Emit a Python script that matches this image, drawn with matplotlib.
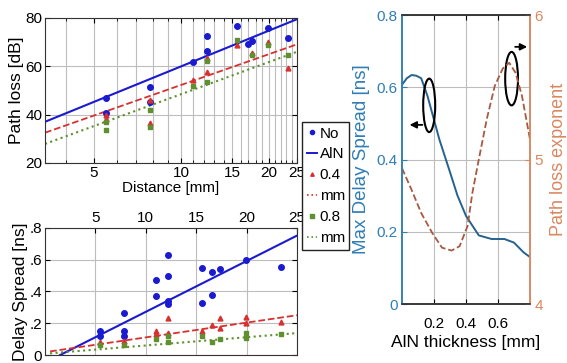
import numpy as np
import matplotlib
matplotlib.use("Agg")
import matplotlib.pyplot as plt
from matplotlib.patches import Ellipse
from matplotlib.lines import Line2D
from matplotlib.ticker import FixedLocator, FixedFormatter, NullFormatter

plt.rcParams['font.family'] = ['Liberation Sans', 'DejaVu Sans']

# === DATA ===
# path loss [dB] vs distance [mm]
pl_no_d = [5.5, 5.5, 7.8, 7.8, 11.0, 12.3, 12.3, 15.6, 16.9, 17.5, 19.8, 23.2]
pl_no = [46.9, 40.7, 51.4, 45.3, 61.8, 72.6, 66.3, 76.7, 69.2, 70.6, 75.9, 71.7]
pl_04_d = [5.5, 5.5, 7.8, 7.8, 11.0, 12.3, 12.3, 15.6, 17.5, 19.8, 23.2]
pl_04 = [40.0, 38.0, 36.5, 46.0, 54.5, 57.7, 63.5, 69.0, 65.5, 70.0, 59.3]
pl_08_d = [5.5, 5.5, 7.8, 7.8, 11.0, 12.3, 12.3, 15.6, 17.5, 19.8, 23.2]
pl_08 = [37.0, 33.6, 35.0, 42.0, 52.0, 53.7, 62.0, 71.0, 64.7, 69.0, 64.7]
# fits: intercept, slope per decade
pl_fit_no = [11.0, 49.0]
pl_fit_04 = [10.1, 42.2]
pl_fit_08 = [4.5, 44.0]

# delay spread [ns] vs distance [mm]
ds_no_d = [5.5, 5.5, 7.8, 7.8, 7.8, 11.0, 11.0, 12.2, 12.2, 12.2, 12.2,
           15.6, 15.6, 16.6, 16.6, 17.4, 19.9, 23.4]
ds_no = [0.15, 0.12, 0.265, 0.15, 0.12, 0.47, 0.37, 0.63, 0.50, 0.34, 0.32,
         0.55, 0.325, 0.52, 0.375, 0.54, 0.60, 0.555]
ds_04_d = [5.5, 7.8, 11.0, 11.0, 12.2, 12.2, 15.6, 16.6, 17.4, 17.4, 19.9, 19.9, 23.4]
ds_04 = [0.08, 0.09, 0.15, 0.13, 0.23, 0.14, 0.15, 0.19, 0.23, 0.17, 0.24, 0.20, 0.21]
ds_08_d = [5.5, 7.8, 11.0, 12.2, 12.2, 15.6, 16.6, 17.4, 19.9, 19.9, 23.4]
ds_08 = [0.06, 0.06, 0.10, 0.12, 0.08, 0.12, 0.08, 0.10, 0.14, 0.11, 0.13]
# fits: intercept, slope per mm
ds_fit_no = [-0.048, 0.032]
ds_fit_04 = [0.018, 0.0093]
ds_fit_08 = [0.008, 0.0052]

# max delay spread / path loss exponent vs AlN thickness
thk_ds = [0.0, 0.03, 0.06, 0.09, 0.12, 0.16, 0.20, 0.234, 0.295, 0.347, 0.40,
          0.48, 0.56, 0.64, 0.70, 0.76, 0.80]
max_ds = [0.607, 0.625, 0.634, 0.632, 0.625, 0.575, 0.51, 0.455, 0.372, 0.30,
          0.244, 0.19, 0.18, 0.18, 0.17, 0.143, 0.13]
thk_ple = [0.0, 0.06, 0.12, 0.19, 0.25, 0.31, 0.36, 0.41, 0.44, 0.48, 0.53,
           0.58, 0.63, 0.67, 0.71, 0.75, 0.80]
ple = [4.94, 4.79, 4.63, 4.49, 4.39, 4.37, 4.40, 4.54, 4.77, 5.0, 5.28,
       5.51, 5.63, 5.67, 5.60, 5.44, 5.14]

C_NO = '#1a1ad0'
C_04 = '#d83030'
C_08 = '#5f8f2f'
C_BLUE = '#2f7db5'
C_ORANGE = '#d9875f'
GRID = '#bdbdbd'

fig = plt.figure(figsize=(5.67, 3.63), dpi=100)

# === PATH LOSS ===
ax1 = fig.add_axes([0.0794, 0.551, 0.4444, 0.3995])
ax1.set_xscale('log')
dd = np.linspace(3.4, 25, 100)
ax1.plot(dd, pl_fit_no[0] + pl_fit_no[1] * np.log10(dd), '-', color=C_NO, lw=1.5)
ax1.plot(dd, pl_fit_04[0] + pl_fit_04[1] * np.log10(dd), '--', color=C_04, lw=1.3)
ax1.plot(dd, pl_fit_08[0] + pl_fit_08[1] * np.log10(dd), ':', color=C_08, lw=1.5)
ax1.plot(pl_no_d, pl_no, 'o', color=C_NO, ms=4)
ax1.plot(pl_04_d, pl_04, '^', color=C_04, ms=3.5)
ax1.plot(pl_08_d, pl_08, 's', color=C_08, ms=3.5)
ax1.set_xlim(3.4, 25)
ax1.set_ylim(20, 80)
ax1.set_yticks([20, 40, 60, 80])
ax1.xaxis.set_major_locator(FixedLocator([5, 10, 15, 20, 25]))
ax1.xaxis.set_major_formatter(FixedFormatter(['5', '10', '15', '20', '25']))
ax1.xaxis.set_minor_locator(FixedLocator([v for v in range(4, 25) if v % 5]))
ax1.xaxis.set_minor_formatter(NullFormatter())
ax1.grid(True, which='both', color=GRID, lw=0.8)
ax1.set_xlabel('Distance [mm]', fontsize=11, labelpad=1)
ax1.set_ylabel('Path loss [dB]', fontsize=12.5, labelpad=1)

# === DELAY SPREAD ===
ax2 = fig.add_axes([0.0794, 0.022, 0.4444, 0.350])
dl = np.linspace(1.5, 25, 50)
ax2.plot(dl, ds_fit_no[0] + ds_fit_no[1] * dl, '-', color=C_NO, lw=1.5)
dl2 = np.linspace(0.5, 25, 50)
ax2.plot(dl2, ds_fit_04[0] + ds_fit_04[1] * dl2, '--', color=C_04, lw=1.3)
ax2.plot(dl2, ds_fit_08[0] + ds_fit_08[1] * dl2, ':', color=C_08, lw=1.5)
ax2.plot(ds_no_d, ds_no, 'o', color=C_NO, ms=4)
ax2.plot(ds_04_d, ds_04, '^', color=C_04, ms=3.5)
ax2.plot(ds_08_d, ds_08, 's', color=C_08, ms=3.5)
ax2.set_xlim(0, 25)
ax2.set_ylim(0, 0.8)
ax2.set_xticks([5, 10, 15, 20, 25])
ax2.set_yticks([0, 0.2, 0.4, 0.6, 0.8])
ax2.set_yticklabels(['0', '.2', '.4', '.6', '.8'])
ax2.xaxis.tick_top()
ax2.grid(True, color=GRID, lw=0.8)
ax2.set_ylabel('Delay Spread [ns]', fontsize=12.5, labelpad=1)

for ax in (ax1, ax2):
    ax.tick_params(which='both', direction='in', top=True, right=True,
                   labelsize=11, pad=2)
    for s in ax.spines.values():
        s.set_color('#333333')

# legend between the panels
handles = [
    Line2D([], [], ls='none', marker='o', ms=3, color=C_NO),
    Line2D([], [], ls='-', color=C_NO, lw=1.4),
    Line2D([], [], ls='none', marker='^', ms=2.5, color=C_04),
    Line2D([], [], ls=':', color=C_04, lw=1.2),
    Line2D([], [], ls='none', marker='s', ms=2.5, color=C_08),
    Line2D([], [], ls=':', color=C_08, lw=1.2),
]
labels = ['No', 'AlN', '0.4', 'mm', '0.8', 'mm']
leg = fig.legend(handles, labels, loc='upper left',
                 bbox_to_anchor=(302 / 567, 1 - 122 / 363), borderaxespad=0,
                 fontsize=11, handlelength=0.7, handletextpad=0.15,
                 labelspacing=0.45, borderpad=0.3, fancybox=False,
                 framealpha=1, edgecolor='#222222')
leg.get_frame().set_linewidth(1.0)

# === AlN THICKNESS ===
ax3 = fig.add_axes([0.709, 0.1625, 0.2257, 0.796])
ax3.plot(thk_ds, max_ds, '-', color='#25628f', lw=1.4)
ax3.set_xlim(0, 0.8)
ax3.set_ylim(0, 0.8)
ax3.set_xticks([0.2, 0.4, 0.6])
ax3.set_yticks([0, 0.2, 0.4, 0.6, 0.8])
ax3.set_yticklabels(['0', '0.2', '0.4', '0.6', '0.8'])
ax3.grid(True, color=GRID, lw=0.8)
ax3.tick_params(direction='in', labelsize=11, pad=3, top=True)
ax3.tick_params(axis='x', pad=9)
ax3.tick_params(axis='y', colors=C_BLUE)
ax3.set_xlabel('AlN thickness [mm]', fontsize=12.5, labelpad=3)
ax3.set_ylabel('Max Delay Spread [ns]', fontsize=13.5, color=C_BLUE, labelpad=5)

ax4 = ax3.twinx()
ax4.plot(thk_ple, ple, '--', color='#a85a40', lw=1.3)
ax4.set_ylim(4, 6)
ax4.set_yticks([4, 5, 6])
ax4.tick_params(direction='in', labelsize=11, pad=3, colors=C_ORANGE)
ax4.set_ylabel('Path loss exponent', fontsize=13, color=C_ORANGE, labelpad=5)

for ax in (ax3, ax4):
    ax.spines['top'].set_color('#333333')
    ax.spines['bottom'].set_color('#333333')
    ax.spines['left'].set_color(C_BLUE)
    ax.spines['right'].set_color(C_ORANGE)
    for s in ax.spines.values():
        s.set_linewidth(1.1)

ax4.add_patch(Ellipse((0.17, 5.375), 0.075, 0.37, fill=False, ec='black', lw=1.5))
ax4.add_patch(Ellipse((0.685, 5.56), 0.08, 0.37, fill=False, ec='black', lw=1.5))
ax4.annotate('', xy=(0.03, 5.24), xytext=(0.145, 5.24),
             arrowprops=dict(arrowstyle='-|>', color='black', lw=1.3, mutation_scale=10))
ax4.annotate('', xy=(0.8, 5.78), xytext=(0.69, 5.78),
             arrowprops=dict(arrowstyle='-|>', color='black', lw=1.3, mutation_scale=10))

fig.savefig('out.png', dpi=100)
